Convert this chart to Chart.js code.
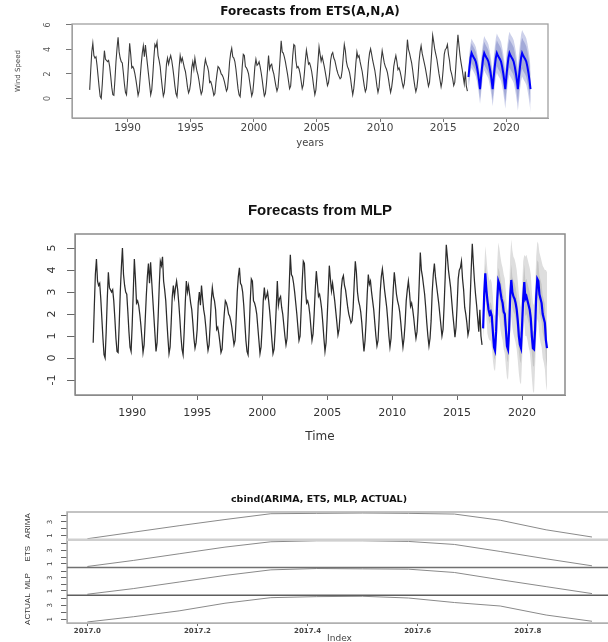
<!DOCTYPE html>
<html>
<head>
<meta charset="UTF-8">
<title>Wind speed forecasts</title>
<script src="https://cdn.jsdelivr.net/npm/chart.js"></script>
<style>
  html, body { margin: 0; padding: 0; background: #fff; overflow: hidden; }
  body { width: 608px; height: 642px; position: relative; }
  canvas { position: absolute; left: 0; }
  #ets { top: 0; }
  #mlp { top: 190px; }
  #cmp { top: 480px; }
</style>
</head>
<body>
<canvas id="ets" width="608" height="160"></canvas>
<canvas id="mlp" width="608" height="270"></canvas>
<canvas id="cmp" width="640" height="170"></canvas>
<script>
// monthly mean wind speed, Jan..Dec, one row per year 1987-2016
const histStart = 1987;
const windSpeed = [
  0.7, 2.3, 3.8, 4.5, 3.5, 3.3, 3.4, 2.7, 1.8, 0.9, 0.15, 0.0,
  1.2, 2.7, 3.9, 3.2, 3.1, 3.0, 3.1, 2.6, 1.8, 0.9, 0.3, 0.25,
  1.5, 3.0, 4.1, 5.0, 3.8, 3.3, 3.0, 2.9, 2.1, 1.2, 0.5, 0.3,
  1.5, 3.0, 4.5, 3.6, 2.5, 2.6, 2.4, 2.0, 1.5, 0.9, 0.25, 0.6,
  1.7, 2.8, 3.7, 4.3, 3.4, 4.35, 3.5, 2.7, 1.9, 1.1, 0.3, 0.7,
  1.9, 3.3, 4.4, 4.2, 4.6, 3.5, 3.1, 2.6, 1.7, 0.9, 0.2, 0.5,
  1.6, 2.8, 3.3, 2.8, 3.2, 3.5, 3.1, 2.5, 1.8, 1.0, 0.4, 0.15,
  1.2, 2.5, 3.5, 3.0, 3.3, 2.9, 2.5, 2.2, 1.6, 0.9, 0.45, 0.7,
  1.3, 2.5, 3.0, 2.4, 3.3, 2.7, 2.2, 1.9, 1.4, 0.8, 0.35, 0.6,
  1.5, 2.6, 3.2, 2.8, 2.6, 2.2, 1.3, 1.4, 1.1, 0.7, 0.25, 0.4,
  1.3, 2.0, 2.6, 2.5, 2.3, 2.0, 1.9, 1.7, 1.4, 1.0, 0.6, 0.8,
  1.8, 3.0, 3.7, 4.1, 3.4, 3.3, 3.0, 2.4, 1.6, 0.8, 0.3, 0.15,
  1.2, 2.6, 3.6, 3.5, 2.6, 2.5, 2.3, 2.0, 1.4, 0.8, 0.2, 0.5,
  1.4, 2.6, 3.2, 2.7, 2.8, 3.0, 2.6, 2.1, 1.5, 0.8, 0.2, 0.4,
  1.2, 2.3, 3.5, 2.4, 2.7, 2.8, 2.3, 2.0, 1.5, 1.0, 0.6, 0.9,
  2.0, 3.3, 4.7, 3.8, 3.7, 3.4, 3.0, 2.5, 2.0, 1.4, 0.8, 1.0,
  2.2, 3.5, 4.4, 4.3, 3.1, 2.5, 2.6, 2.4, 2.0, 1.4, 0.8, 1.1,
  2.0, 3.1, 3.95, 3.4, 2.8, 2.9, 2.6, 2.2, 1.6, 0.9, 0.3, 0.7,
  1.8, 3.0, 4.2, 3.6, 3.05, 3.4, 3.0, 2.6, 2.1, 1.6, 1.05, 1.3,
  2.0, 3.1, 3.6, 3.75, 3.3, 3.1, 2.7, 2.3, 2.0, 1.8, 1.6, 1.7,
  2.3, 3.4, 4.4, 3.9, 3.0, 2.6, 2.4, 2.1, 1.6, 0.9, 0.3, 0.8,
  1.7, 2.9, 3.8, 3.35, 3.5, 3.0, 2.6, 2.2, 1.6, 1.0, 0.55, 0.8,
  1.8, 3.0, 3.7, 4.05, 3.6, 3.1, 2.7, 2.3, 1.7, 1.0, 0.5, 0.9,
  2.0, 3.1, 3.9, 3.4, 2.9, 2.6, 2.4, 2.1, 1.6, 1.0, 0.5, 0.9,
  1.6, 2.6, 3.1, 3.5, 3.0, 2.35, 2.5, 2.2, 1.8, 1.3, 0.9, 1.2,
  2.1, 3.4, 4.8, 4.0, 3.7, 3.3, 2.9, 2.3, 1.6, 1.0, 0.55, 0.9,
  1.7, 3.0, 3.8, 4.3, 3.7, 3.3, 2.9, 2.5, 2.0, 1.5, 1.0, 1.3,
  2.4, 3.7, 5.15, 4.6, 4.0, 3.6, 3.2, 2.6, 2.0, 1.5, 0.95, 1.4,
  2.4, 3.6, 4.0, 4.1, 4.4, 3.6, 3.1, 2.3, 2.0, 1.6, 1.05, 1.3,
  2.6, 4.0, 5.2, 4.3, 3.5, 2.9, 2.4, 1.8, 1.2, 2.2, 1.0, 0.6
];

// forecasts, Jan 2017 - Dec 2021
const fcStart = 2017;
const etsMean = [
  1.75, 2.6, 3.3, 3.7, 3.5, 3.35, 3.2, 3.0, 2.6, 2.1, 1.5, 0.75,
  1.75, 2.6, 3.3, 3.7, 3.5, 3.35, 3.2, 3.0, 2.6, 2.1, 1.5, 0.75,
  1.75, 2.6, 3.3, 3.7, 3.5, 3.35, 3.2, 3.0, 2.6, 2.1, 1.5, 0.75,
  1.75, 2.6, 3.3, 3.7, 3.5, 3.35, 3.2, 3.0, 2.6, 2.1, 1.5, 0.75,
  1.75, 2.6, 3.3, 3.7, 3.5, 3.35, 3.2, 3.0, 2.6, 2.1, 1.5, 0.75
];
const etsHalf80 = [0.8, 0.92, 1.05, 1.15, 1.25];   // per forecast year
const etsHalf95 = [1.2, 1.4, 1.6, 1.75, 1.9];

const mlpMean = [
  1.35, 2.9, 3.85, 3.1, 2.6, 2.2, 2.0, 2.1, 1.9, 1.2, 0.5, 0.35,
  1.2, 2.6, 3.5, 3.35, 3.0, 2.7, 2.5, 2.1, 2.0, 1.3, 0.55, 0.4,
  1.3, 2.8, 3.55, 3.0, 2.8, 2.7, 2.5, 2.2, 1.7, 1.0, 0.6, 0.45,
  1.5, 2.7, 3.45, 2.7, 2.8, 2.6, 2.4, 2.2, 1.8, 1.0, 0.45, 0.4,
  1.3, 2.8, 3.6, 3.5, 2.9, 2.7, 2.5, 2.0, 1.8, 1.6, 0.8, 0.45
];
const mlpHi = [
  2.4, 4.0, 5.1, 4.6, 4.0, 3.7, 3.5, 3.6, 3.4, 2.8, 2.0, 1.9,
  2.8, 4.3, 5.25, 5.0, 4.6, 4.3, 4.1, 3.8, 3.6, 3.0, 2.3, 2.1,
  3.0, 4.6, 5.4, 4.9, 4.6, 4.5, 4.3, 4.0, 3.5, 2.9, 2.5, 2.3,
  3.2, 4.4, 4.7, 4.6, 4.7, 4.5, 4.3, 4.1, 3.8, 3.0, 2.5, 2.4,
  3.1, 4.6, 5.3, 5.2, 4.8, 4.6, 4.4, 4.2, 4.1, 4.0, 4.0, 3.9
];
const mlpLo = [
  0.9, 1.8, 2.6, 1.8, 1.1, 0.9, 0.8, 0.8, 0.5, -0.1, -0.5, -0.6,
  0.0, 1.2, 2.0, 1.8, 1.3, 1.0, 0.8, 0.4, 0.2, -0.4, -0.9, -1.0,
  -0.2, 1.1, 1.9, 1.4, 1.1, 0.9, 0.7, 0.4, -0.1, -0.7, -1.1, -1.2,
  -0.1, 1.0, 1.7, 1.0, 1.0, 0.8, 0.5, 0.3, -0.2, -0.9, -1.5, -1.6,
  -0.4, 0.9, 1.8, 1.6, 1.0, 0.7, 0.5, 0.0, -0.2, -0.5, -1.2, -1.5
];
const mlpInner = [0.45, 0.6, 0.7, 0.8, 0.85];   // denser paths, per year

// 2017 comparison panels
const cmpYear = 2017;
const arimaFc = [0.55, 1.5, 2.45, 3.35, 4.2, 4.25, 4.3, 4.25, 4.15, 3.25, 1.85, 0.8];
const etsFc = [0.6, 1.5, 2.5, 3.5, 4.3, 4.45, 4.45, 4.35, 3.9, 2.85, 1.75, 0.7];
const mlpFc = [0.5, 1.35, 2.35, 3.35, 4.2, 4.4, 4.35, 4.3, 3.8, 2.7, 1.65, 0.6];
const actualObs = [0.6, 1.35, 2.2, 3.3, 4.1, 4.25, 4.3, 4.05, 3.4, 2.9, 1.6, 0.7];

const yearTicks = [1990, 1995, 2000, 2005, 2010, 2015, 2020];
const etsYTicks = [0, 2, 4, 6];
const mlpYTicks = [-1, 0, 1, 2, 3, 4, 5];
const cmpXTicks = [2017.0, 2017.2, 2017.4, 2017.6, 2017.8];
const panelTicks = [1, 2, 3, 4];

// ---- helpers
const monthly = (start, vals) => vals.map((v, i) => ({ x: start + i / 12, y: v }));
const shifted = (start, vals, half, sign) =>
  vals.map((v, i) => ({ x: start + i / 12, y: v + sign * half[Math.floor(i / 12)] }));
const fixedTicks = values => scale => {
  scale.ticks = values.filter(v => v >= scale.min - 1e-9 && v <= scale.max + 1e-9).map(v => ({ value: v }));
};
function panelRange(vals) {
  const lo = Math.min(...vals), hi = Math.max(...vals), pad = (hi - lo) * 0.04;
  return { min: lo - pad, max: hi + pad };
}
const font = (size, weight, family) => ({ family: family || 'DejaVu Sans', size, weight: weight || 'normal' });

const heading = {
  id: 'heading',
  afterDraw(chart, args, o) {
    const { ctx, chartArea } = chart;
    ctx.save();
    ctx.font = o.font;
    ctx.fillStyle = '#111';
    ctx.textAlign = 'center';
    ctx.textBaseline = 'middle';
    const x = o.x != null ? o.x : (chartArea.left + chartArea.right) / 2;
    ctx.fillText(o.text, x, o.y);
    ctx.restore();
  }
};

const frame = {
  id: 'frame',
  afterDatasetsDraw(chart, args, o) {
    const { ctx, chartArea: a } = chart;
    ctx.save();
    ctx.strokeStyle = o.color;
    ctx.lineWidth = o.width;
    ctx.strokeRect(a.left, a.top, a.right - a.left, a.bottom - a.top);
    (o.splits || []).forEach(s => {
      const sc = chart.scales[s.scale];
      ctx.strokeStyle = s.color;
      ctx.lineWidth = s.width;
      ctx.beginPath();
      ctx.moveTo(a.left, sc.bottom);
      ctx.lineTo(a.right, sc.bottom);
      ctx.stroke();
    });
    ctx.restore();
  }
};

const base = {
  responsive: false,
  animation: false,
  devicePixelRatio: 1,
  events: [],
  elements: { point: { radius: 0 }, line: { tension: 0 } }
};
const bandLine = { borderColor: 'transparent', borderWidth: 0, pointRadius: 0 };

// ---- ETS(A,N,A)
new Chart(document.getElementById('ets'), {
  type: 'line',
  data: {
    datasets: [
      { ...bandLine, data: shifted(fcStart, etsMean, etsHalf95, -1), fill: false, order: 6 },
      { ...bandLine, data: shifted(fcStart, etsMean, etsHalf95, 1), fill: '-1', backgroundColor: '#ccd0ea', order: 5 },
      { ...bandLine, data: shifted(fcStart, etsMean, etsHalf80, -1), fill: false, order: 4 },
      { ...bandLine, data: shifted(fcStart, etsMean, etsHalf80, 1), fill: '-1', backgroundColor: '#a3aad8', order: 3 },
      { data: monthly(histStart, windSpeed), borderColor: '#3a3a3a', borderWidth: 1.1, fill: false, order: 2 },
      { data: monthly(fcStart, etsMean), borderColor: '#0000ff', borderWidth: 2, fill: false, order: 1 }
    ]
  },
  options: {
    ...base,
    layout: { padding: { top: 24, right: 60, left: 0, bottom: 0 } },
    plugins: {
      legend: { display: false }, tooltip: { enabled: false },
      heading: { text: 'Forecasts from ETS(A,N,A)', font: 'bold 12px "DejaVu Sans"', y: 11.5 },
      frame: { color: '#a0a0a0', width: 1.3 }
    },
    scales: {
      x: {
        type: 'linear', min: 1985.6, max: 2023.3,
        afterBuildTicks: fixedTicks(yearTicks),
        afterFit: s => { s.height = 42; },
        grid: { drawOnChartArea: false, tickLength: 4, tickColor: '#777' },
        border: { color: '#a0a0a0' },
        ticks: { autoSkip: false, maxRotation: 0, padding: 0, color: '#444', font: font(10.5), callback: v => String(v) },
        title: { display: true, text: 'years', color: '#444', font: font(10), padding: { top: 0, bottom: 11 } }
      },
      y: {
        type: 'linear', min: -1.6, max: 6.08,
        afterBuildTicks: fixedTicks(etsYTicks),
        afterFit: s => { s.width = 72; },
        grid: { drawOnChartArea: false, tickLength: 6, tickColor: '#777' },
        border: { color: '#a0a0a0' },
        ticks: { autoSkip: false, minRotation: 90, maxRotation: 90, crossAlign: 'center', padding: 15.4, color: '#555', font: font(8), callback: v => String(v) },
        title: { display: true, text: 'Wind Speed', color: '#444', font: font(7), padding: { top: 13.8, bottom: 0 } }
      }
    }
  },
  plugins: [heading, frame]
});

// ---- MLP
new Chart(document.getElementById('mlp'), {
  type: 'line',
  data: {
    datasets: [
      { ...bandLine, data: monthly(fcStart, mlpLo), fill: false, order: 6 },
      { ...bandLine, data: monthly(fcStart, mlpHi), fill: '-1', backgroundColor: '#dedede', order: 5 },
      { ...bandLine, data: shifted(fcStart, mlpMean, mlpInner, -1), fill: false, order: 4 },
      { ...bandLine, data: shifted(fcStart, mlpMean, mlpInner, 1), fill: '-1', backgroundColor: '#c6c6c6', order: 3 },
      { data: monthly(histStart, windSpeed), borderColor: '#2b2b2b', borderWidth: 1.25, fill: false, order: 2 },
      { data: monthly(fcStart, mlpMean), borderColor: '#0000ff', borderWidth: 2.2, fill: false, order: 1 }
    ]
  },
  options: {
    ...base,
    layout: { padding: { top: 44, right: 43, left: 0, bottom: 0 } },
    plugins: {
      legend: { display: false }, tooltip: { enabled: false },
      heading: { text: 'Forecasts from MLP', font: 'bold 15px "Liberation Sans"', y: 20.5 },
      frame: { color: '#8a8a8a', width: 1.5 }
    },
    scales: {
      x: {
        type: 'linear', min: 1985.6, max: 2023.3,
        afterBuildTicks: fixedTicks(yearTicks),
        afterFit: s => { s.height = 65; },
        grid: { drawOnChartArea: false, tickLength: 5, tickColor: '#666' },
        border: { color: '#8a8a8a' },
        ticks: { autoSkip: false, maxRotation: 0, padding: 6.4, color: '#333', font: font(11), callback: v => String(v) },
        title: { display: true, text: 'Time', color: '#333', font: font(12), padding: { top: 0, bottom: 15.8 } }
      },
      y: {
        type: 'linear', min: -1.68, max: 5.64,
        afterBuildTicks: fixedTicks(mlpYTicks),
        afterFit: s => { s.width = 75; },
        grid: { drawOnChartArea: false, tickLength: 8, tickColor: '#666' },
        border: { color: '#8a8a8a' },
        ticks: { autoSkip: false, minRotation: 90, maxRotation: 90, crossAlign: 'center', padding: 9.5, color: '#333', font: font(11), callback: v => String(v) }
      }
    }
  },
  plugins: [heading, frame]
});

// ---- cbind(ARIMA, ETS, MLP, ACTUAL)
function panelAxis(label, vals, weight) {
  const r = panelRange(vals);
  return {
    type: 'linear', position: 'left', stack: 'cmp', stackWeight: 1, weight,
    min: r.min, max: r.max,
    afterBuildTicks: fixedTicks(panelTicks),
    afterFit: s => { s.width = 67; },
    grid: { drawOnChartArea: false, tickLength: 6, tickColor: '#666' },
    border: { color: '#999' },
    ticks: { autoSkip: false, minRotation: 90, maxRotation: 90, crossAlign: 'center', padding: 8.5, color: '#444', font: font(7), callback: v => (v % 2 === 1 ? String(v) : '') },
    title: { display: true, text: label, color: '#333', font: font(8, 'normal', 'Liberation Sans'), padding: { top: 23.2, bottom: 0 } }
  };
}
const panelLine = { borderColor: '#8a8a8a', borderWidth: 1, fill: false };

new Chart(document.getElementById('cmp'), {
  type: 'line',
  data: {
    datasets: [
      { ...panelLine, data: monthly(cmpYear, arimaFc), yAxisID: 'yA' },
      { ...panelLine, data: monthly(cmpYear, etsFc), yAxisID: 'yE' },
      { ...panelLine, data: monthly(cmpYear, mlpFc), yAxisID: 'yM' },
      { ...panelLine, data: monthly(cmpYear, actualObs), yAxisID: 'yX' }
    ]
  },
  options: {
    ...base,
    layout: { padding: { top: 32, right: 28, left: 0, bottom: 0 } },
    plugins: {
      legend: { display: false }, tooltip: { enabled: false },
      heading: { text: 'cbind(ARIMA, ETS, MLP, ACTUAL)', font: 'bold 9.5px "DejaVu Sans"', y: 20, x: 319 },
      frame: {
        color: '#b0b0b0', width: 1.5,
        splits: [
          { scale: 'yA', color: '#cfcfcf', width: 2.5 },
          { scale: 'yE', color: '#707070', width: 1.5 },
          { scale: 'yM', color: '#5e5e5e', width: 1.5 }
        ]
      }
    },
    scales: {
      x: {
        type: 'linear', min: 2016.963, max: 2017.953,
        afterBuildTicks: fixedTicks(cmpXTicks),
        afterFit: s => { s.height = 27; },
        grid: { drawOnChartArea: false, tickLength: 3, tickColor: '#666' },
        border: { color: '#b0b0b0' },
        ticks: { autoSkip: false, maxRotation: 0, padding: 0.8, color: '#444', font: font(7, 'bold'), callback: v => v.toFixed(1) },
        title: { display: true, text: 'Index', color: '#444', font: font(9), padding: { top: 0, bottom: 5.6 } }
      },
      yA: panelAxis('ARIMA', arimaFc, 4),
      yE: panelAxis('ETS', etsFc, 3),
      yM: panelAxis('MLP', mlpFc, 2),
      yX: panelAxis('ACTUAL', actualObs, 1)
    }
  },
  plugins: [heading, frame]
});
</script>
</body>
</html>
